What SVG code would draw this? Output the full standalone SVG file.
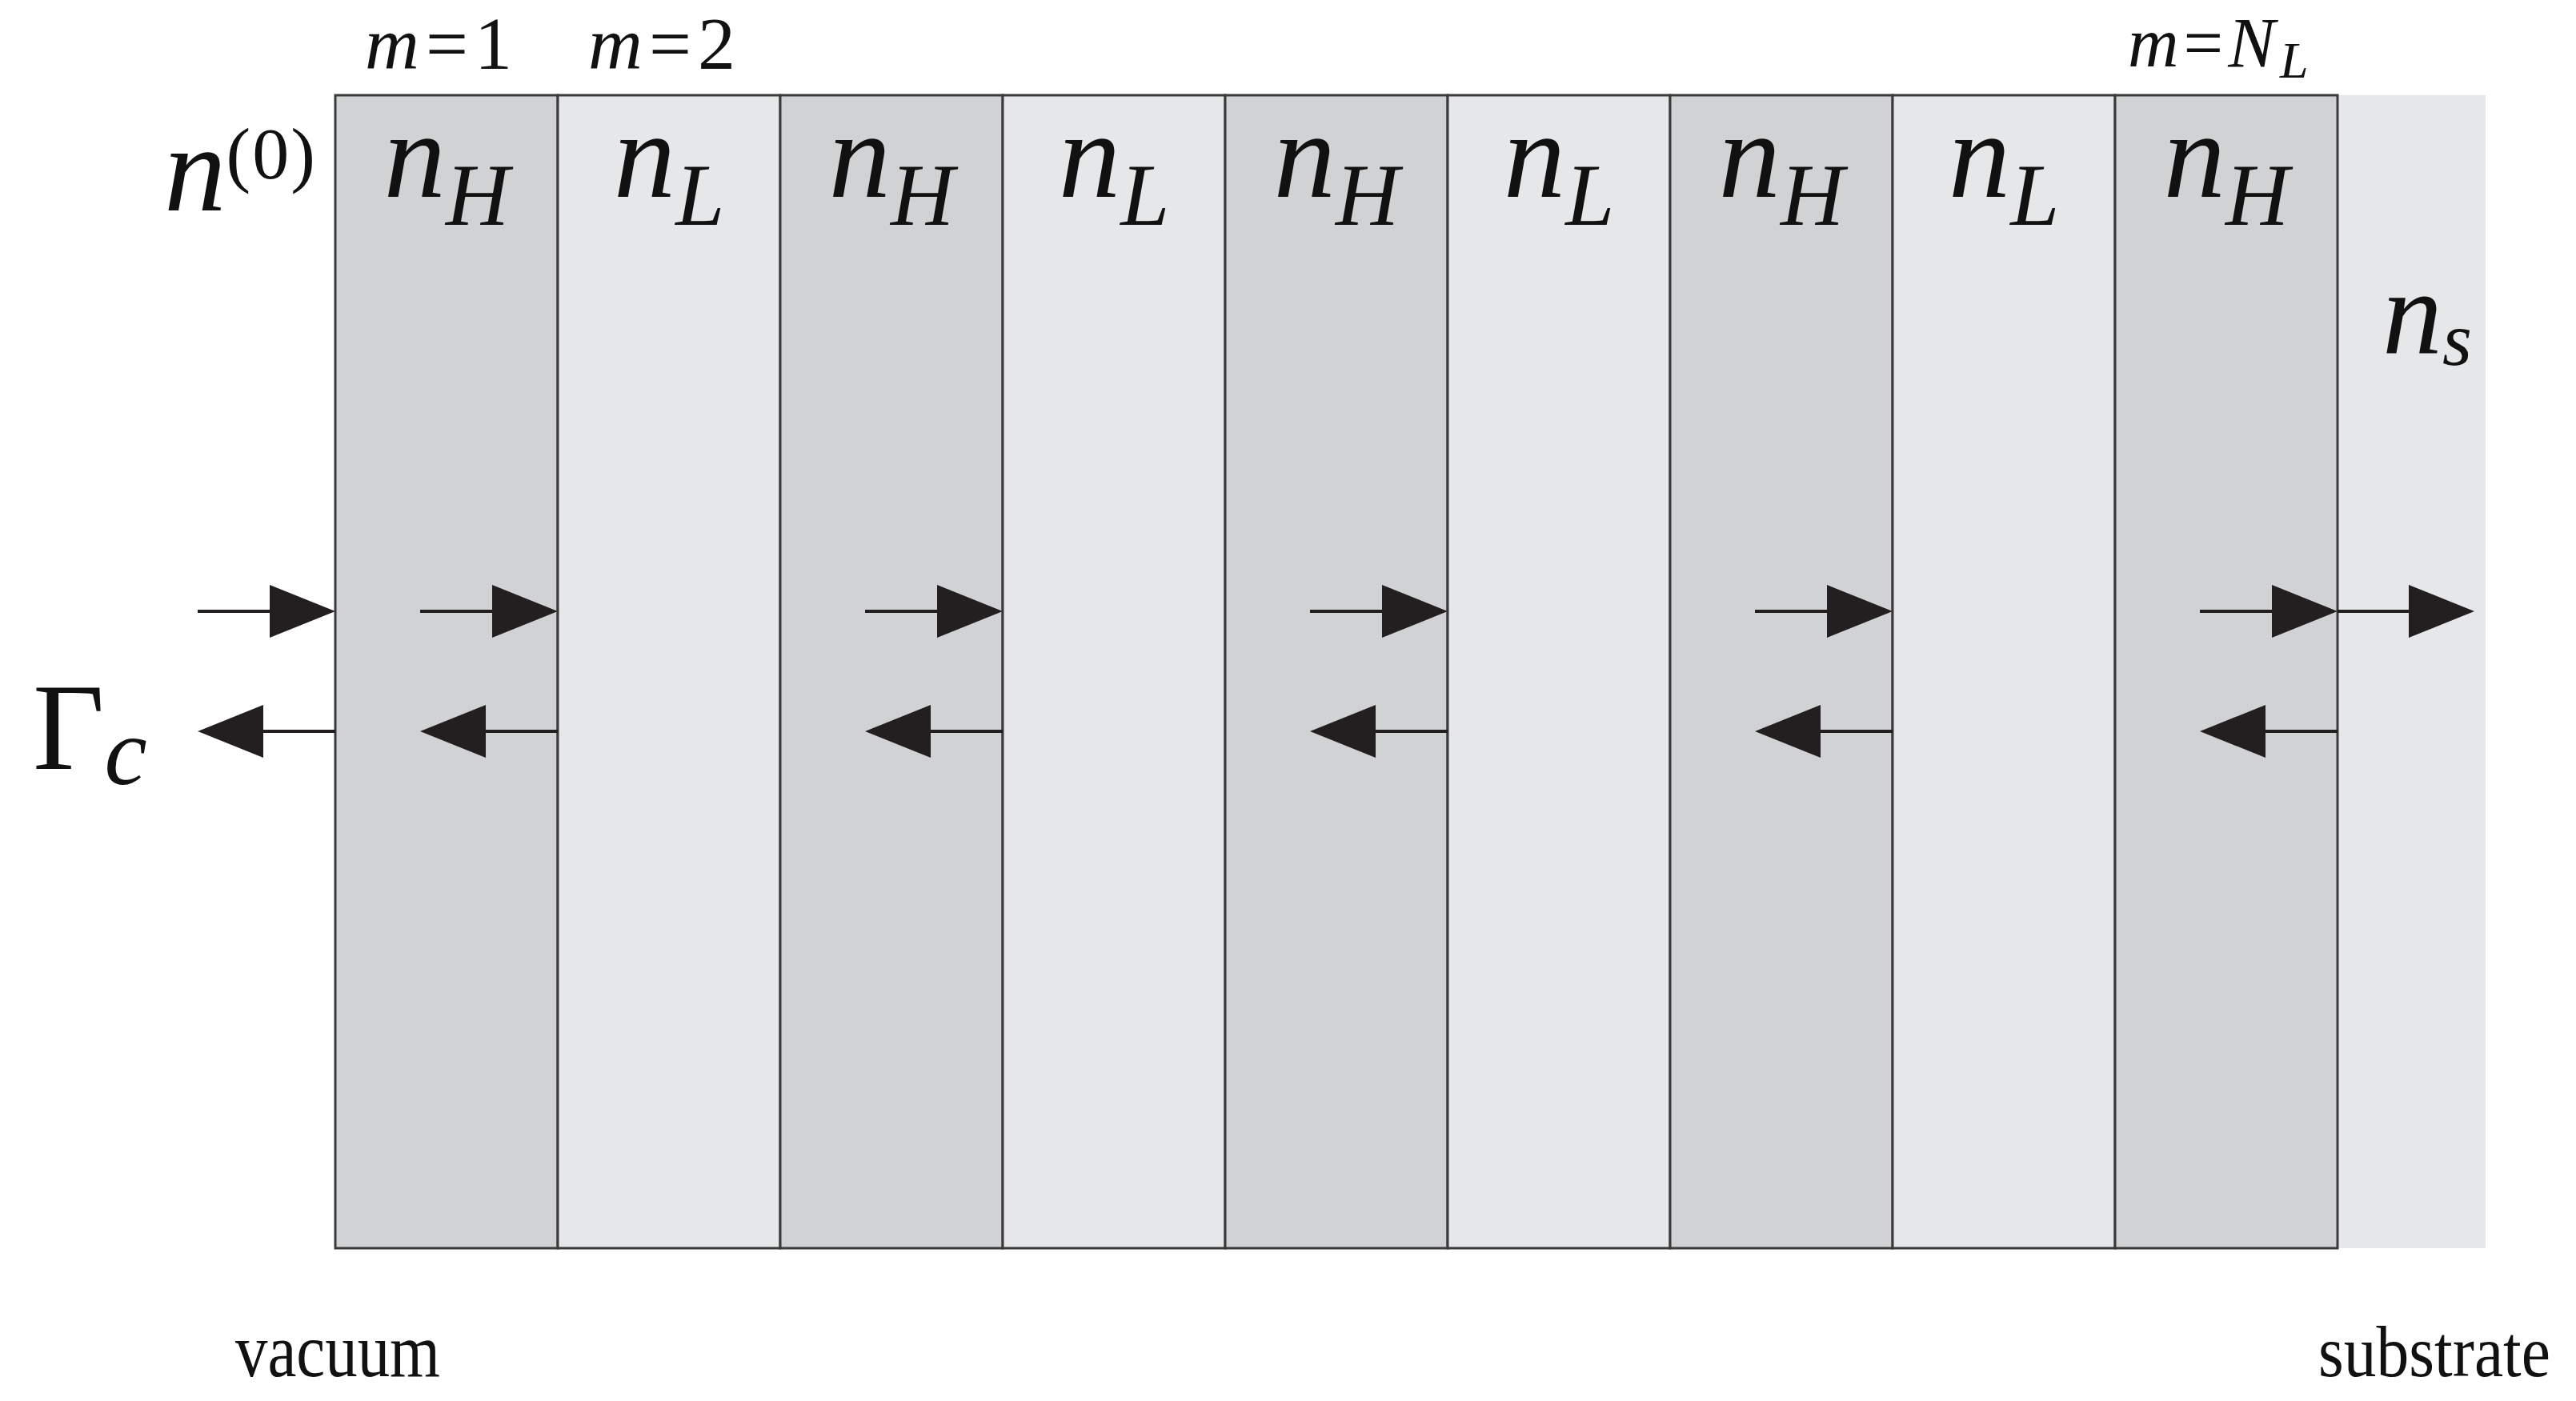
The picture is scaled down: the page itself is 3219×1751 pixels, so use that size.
<svg xmlns="http://www.w3.org/2000/svg" width="3219" height="1751" viewBox="0 0 3219 1751">
<style>
.hi{fill:#d1d2d4;stroke:#3a3a3a;stroke-width:3}
.lo{fill:#e6e7e9;stroke:#3a3a3a;stroke-width:3}
.math{font-family:"Liberation Serif","Times New Roman",serif;font-style:italic;fill:#111}
.rm{font-style:normal}
.lbl{font-family:"Liberation Serif","Times New Roman",serif;fill:#111}
.arr{stroke:#231f20;stroke-width:4;fill:none;marker-end:url(#ah)}
</style>
<defs>
<marker id="ah" markerUnits="userSpaceOnUse" markerWidth="84" markerHeight="68" refX="4" refY="33" orient="auto" viewBox="0 0 84 68">
<path d="M0,0 L82,33 L0,66 z" fill="#231f20"/>
</marker>
</defs>
<rect width="3219" height="1751" fill="#fff"/>
<g id="substrate">
<rect x="2921" y="119" width="185" height="1441" fill="#e6e7e9"/>
<text class="math" x="2977" y="441" font-size="150">n<tspan font-size="95" dy="15">s</tspan></text>
</g>
<g id="layer1"><rect class="hi" x="419" y="119" width="278" height="1441"/><text class="math" x="558" y="246" text-anchor="middle" font-size="155">n<tspan font-size="110" dy="35">H</tspan></text></g>
<g id="layer2"><rect class="lo" x="697" y="119" width="278" height="1441"/><text class="math" x="836" y="246" text-anchor="middle" font-size="155">n<tspan font-size="110" dy="35">L</tspan></text></g>
<g id="layer3"><rect class="hi" x="975" y="119" width="278" height="1441"/><text class="math" x="1114" y="246" text-anchor="middle" font-size="155">n<tspan font-size="110" dy="35">H</tspan></text></g>
<g id="layer4"><rect class="lo" x="1253" y="119" width="278" height="1441"/><text class="math" x="1392" y="246" text-anchor="middle" font-size="155">n<tspan font-size="110" dy="35">L</tspan></text></g>
<g id="layer5"><rect class="hi" x="1531" y="119" width="278" height="1441"/><text class="math" x="1670" y="246" text-anchor="middle" font-size="155">n<tspan font-size="110" dy="35">H</tspan></text></g>
<g id="layer6"><rect class="lo" x="1809" y="119" width="278" height="1441"/><text class="math" x="1948" y="246" text-anchor="middle" font-size="155">n<tspan font-size="110" dy="35">L</tspan></text></g>
<g id="layer7"><rect class="hi" x="2087" y="119" width="278" height="1441"/><text class="math" x="2226" y="246" text-anchor="middle" font-size="155">n<tspan font-size="110" dy="35">H</tspan></text></g>
<g id="layer8"><rect class="lo" x="2365" y="119" width="278" height="1441"/><text class="math" x="2504" y="246" text-anchor="middle" font-size="155">n<tspan font-size="110" dy="35">L</tspan></text></g>
<g id="layer9"><rect class="hi" x="2643" y="119" width="278" height="1441"/><text class="math" x="2782" y="246" text-anchor="middle" font-size="155">n<tspan font-size="110" dy="35">H</tspan></text></g>
<g id="labels">
<text class="math" x="456" y="86" font-size="94" letter-spacing="8">m<tspan class="rm">=1</tspan></text>
<text class="math" x="735" y="86" font-size="94" letter-spacing="8">m<tspan class="rm">=2</tspan></text>
<text class="math" x="2659" y="83" font-size="88" letter-spacing="6">m<tspan class="rm">=</tspan>N<tspan font-size="64" dy="14">L</tspan></text>
<text class="math" x="205" y="263" font-size="155">n<tspan class="rm" font-size="92" dy="-40" letter-spacing="2">(0)</tspan></text>
<text class="lbl" x="41" y="961" font-size="155">Γ<tspan class="math" font-size="120" dy="19">c</tspan></text>
<text class="lbl" x="294" y="1720" font-size="95" textLength="256" lengthAdjust="spacingAndGlyphs">vacuum</text>
<text class="lbl" x="2897" y="1720" font-size="92" textLength="290" lengthAdjust="spacingAndGlyphs">substrate</text>
</g>
<g id="connectors">
<line class="arr" x1="247" y1="764" x2="341" y2="764"/>
<line class="arr" x1="525" y1="764" x2="619" y2="764"/>
<line class="arr" x1="1081" y1="764" x2="1175" y2="764"/>
<line class="arr" x1="1637" y1="764" x2="1731" y2="764"/>
<line class="arr" x1="2193" y1="764" x2="2287" y2="764"/>
<line class="arr" x1="2749" y1="764" x2="2843" y2="764"/>
<line class="arr" x1="2921" y1="764" x2="3014" y2="764"/>
<line class="arr" x1="419" y1="914" x2="325" y2="914"/>
<line class="arr" x1="697" y1="914" x2="603" y2="914"/>
<line class="arr" x1="1253" y1="914" x2="1159" y2="914"/>
<line class="arr" x1="1809" y1="914" x2="1715" y2="914"/>
<line class="arr" x1="2365" y1="914" x2="2271" y2="914"/>
<line class="arr" x1="2921" y1="914" x2="2827" y2="914"/>
</g>
</svg>
